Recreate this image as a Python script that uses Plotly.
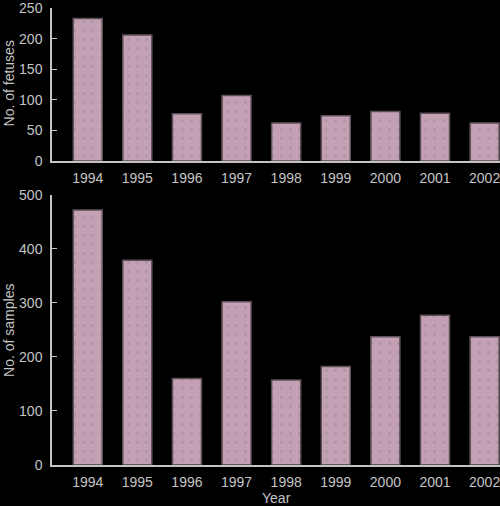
import plotly.graph_objects as go

years = [1994, 1995, 1996, 1997, 1998, 1999, 2000, 2001, 2002]
fetuses = [233, 206, 77, 107, 62, 74, 81, 78, 62]
samples = [472, 379, 160, 302, 157, 182, 237, 277, 237]

bar_color = "#c4a0b4"
txt = "#c4c4c4"
fnt = dict(family="Liberation Sans, Arial", size=14, color=txt)

fig = go.Figure()

# top panel - fetuses
fig.add_trace(go.Bar(x=years, y=fetuses, width=0.585, xaxis="x", yaxis="y",
                     marker=dict(color=bar_color, line=dict(color="#5e5058", width=1.5),
                                 pattern=dict(shape=".", fgcolor="#8c8c8c", bgcolor=bar_color,
                                              size=9, solidity=0.08))))
# bottom panel - samples
fig.add_trace(go.Bar(x=years, y=samples, width=0.585, xaxis="x2", yaxis="y2",
                     marker=dict(color=bar_color, line=dict(color="#5e5058", width=1.5),
                                 pattern=dict(shape=".", fgcolor="#8c8c8c", bgcolor=bar_color,
                                              size=9, solidity=0.08))))

xax = dict(range=[1993.28, 2002.31], tickvals=years, ticktext=[str(y) for y in years],
           showgrid=False, zeroline=False, showline=True, linecolor=txt, linewidth=1.5,
           ticks="", tickfont=fnt, ticklabelstandoff=4, ticklabeloverflow="allow",
           automargin=False)
yax = dict(showgrid=False, zeroline=False, showline=True, linecolor=txt, linewidth=1.5,
           ticks="inside", ticklen=5, tickcolor=txt, tickfont=fnt, ticklabelstandoff=5,
           ticklabeloverflow="allow", automargin=False)

fig.update_layout(
    width=500, height=506,
    paper_bgcolor="black", plot_bgcolor="black",
    margin=dict(l=52, r=0, t=0, b=0, autoexpand=False),
    showlegend=False,
    xaxis=dict(xax, domain=[0, 1], anchor="y"),
    yaxis=dict(yax, domain=[0.682, 0.984], range=[0, 250], tickvals=[0, 50, 100, 150, 200, 250]),
    xaxis2=dict(xax, domain=[0, 1], anchor="y2"),
    yaxis2=dict(yax, domain=[0.0816, 0.6146], range=[0, 500], tickvals=[0, 100, 200, 300, 400, 500]),
    annotations=[
        dict(text="No. of fetuses", textangle=-90, x=-0.096, y=0.835, xref="paper", yref="paper",
             xanchor="center", yanchor="middle", showarrow=False, font=fnt),
        dict(text="No. of samples", textangle=-90, x=-0.096, y=0.348, xref="paper", yref="paper",
             xanchor="center", yanchor="middle", showarrow=False, font=fnt),
        dict(text="Year", x=0.5, y=0.016, xref="paper", yref="paper",
             xanchor="center", yanchor="middle", showarrow=False, font=fnt),
    ],
)

# pin the figure to the page corner, no page margin / scrollbars
page_js = """
document.documentElement.style.overflow='hidden';
document.body.style.margin='0';
document.body.style.overflow='hidden';
document.body.style.background='black';
var gd = document.querySelector('.plotly-graph-div');
gd.style.position='fixed'; gd.style.left='0px'; gd.style.top='0px';
"""
fig.write_html("out.html", config={"displayModeBar": False}, post_script=page_js)
